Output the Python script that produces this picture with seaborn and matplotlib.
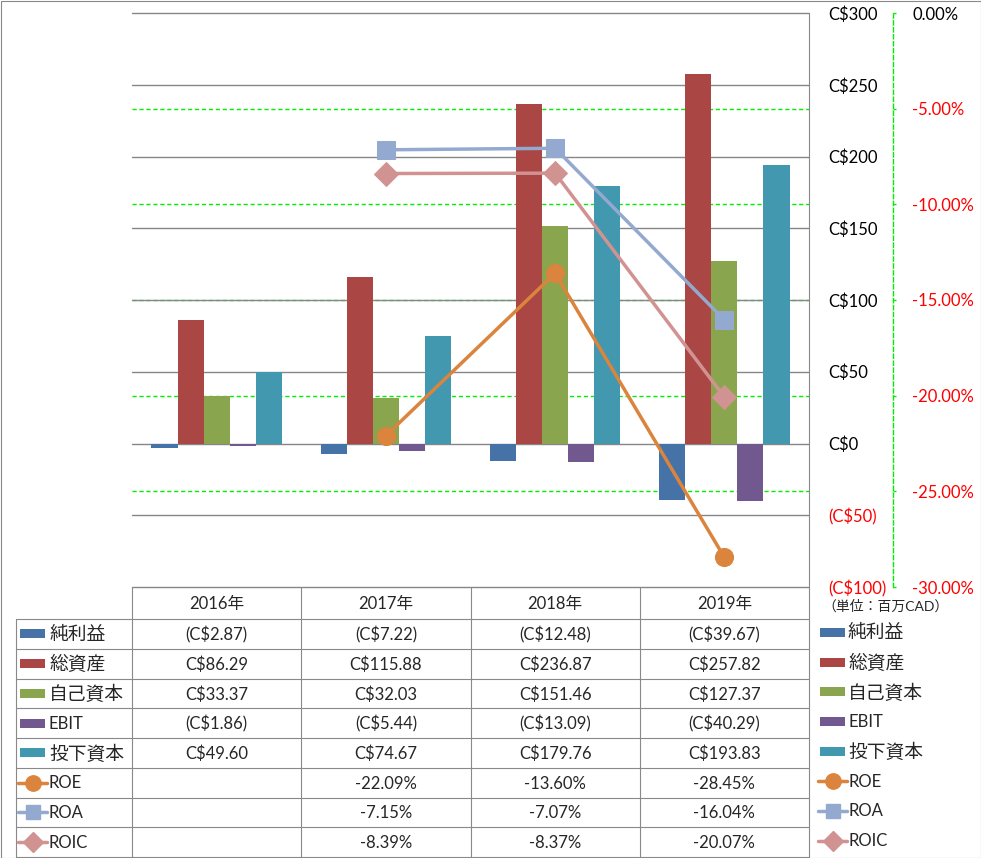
import numpy as np
import pandas as pd
import matplotlib
matplotlib.use("Agg")
import matplotlib.pyplot as plt
import seaborn as sns
from matplotlib.lines import Line2D
from matplotlib.patches import Rectangle

# ---------------- data ----------------
years = ["2016年", "2017年", "2018年", "2019年"]
bar_series = ["純利益", "総資産", "自己資本", "EBIT", "投下資本"]
net_income = [-2.87, -7.22, -12.48, -39.67]
total_assets = [86.29, 115.88, 236.87, 257.82]
equity = [33.37, 32.03, 151.46, 127.37]
ebit = [-1.86, -5.44, -13.09, -40.29]
invested_capital = [49.60, 74.67, 179.76, 193.83]
line_series = ["ROE", "ROA", "ROIC"]
roe = [np.nan, -22.09, -13.60, -28.45]
roa = [np.nan, -7.15, -7.07, -16.04]
roic = [np.nan, -8.39, -8.37, -20.07]
left_ticks = [-100, -50, 0, 50, 100, 150, 200, 250, 300]
right_ticks = [-30, -25, -20, -15, -10, -5, 0]
unit_label = "（単位：百万CAD）"

bar_values = [net_income, total_assets, equity, ebit, invested_capital]
line_values = [roe, roa, roic]

# ---------------- style ----------------
bar_colors = ["#4572A7", "#AA4643", "#89A54E", "#71588F", "#4198AF"]
line_colors = ["#DB843D", "#93A9CF", "#D19392"]
line_markers = ["o", "s", "D"]
marker_sizes = [13, 12.5, 12]
GRID_GRAY = "#868686"
GREEN = "#00F000"
RED = "#FF0000"

sns.set_style("white")
plt.rcParams["font.family"] = ["Lato", "Noto Sans CJK JP"]

W, H = 981, 858
fig = plt.figure(figsize=(W / 100, H / 100), dpi=100)
fig.patch.set_facecolor("white")

PL, PR, PT, PB = 132, 809, 13, 587
rect = [PL / W, 1 - PB / H, (PR - PL) / W, (PB - PT) / H]

ax = fig.add_axes(rect)
ax2 = ax.twinx()
ax3 = ax.twinx()
ax2.set_zorder(1)
ax.set_zorder(2)
ax3.set_zorder(3)
ax.patch.set_visible(False)
ax3.patch.set_visible(False)

# ---- bars ----
rows = []
for s, vals in zip(bar_series, bar_values):
    for y, v in zip(years, vals):
        rows.append({"year": y, "series": s, "value": v})
df = pd.DataFrame(rows)
sns.barplot(data=df, x="year", y="value", hue="series", order=years,
            hue_order=bar_series, palette=bar_colors, width=0.77,
            saturation=1, linewidth=0, errorbar=None, legend=False, ax=ax,
            zorder=2)
ax.set_xlim(-0.5, len(years) - 0.5)
ax.set_ylim(min(left_ticks), max(left_ticks))


def money(v):
    return f"(C${abs(v):,.0f})" if v < 0 else f"C${v:,.0f}"


ax.yaxis.tick_right()
ax.set_yticks(left_ticks)
ax.set_yticklabels([money(v) for v in left_ticks])
ax.tick_params(axis="y", length=0, pad=13.7, labelsize=12)
ax.tick_params(axis="x", length=0, labelbottom=False)
for t, v in zip(ax.yaxis.get_major_ticks(), left_ticks):
    t.label1.set_color(RED if v < 0 else "black")
    t.label2.set_color(RED if v < 0 else "black")
ax.set_xlabel("")
ax.set_ylabel("")
for sp in ax.spines.values():
    sp.set_visible(False)
ax.grid(False)
for v in left_ticks:
    ax.axhline(v, color=GRID_GRAY, lw=1, zorder=0.5, clip_on=False)

# ---- secondary axis (percent) ----
ax2.set_ylim(min(right_ticks), max(right_ticks))
ax2.set_yticks(right_ticks)
ax2.set_yticklabels([f"{v:.2f}%" for v in right_ticks])
for name, sp in ax2.spines.items():
    sp.set_visible(name == "right")
ax2.spines["right"].set_position(("outward", 84 * 0.72))
ax2.spines["right"].set_color(GREEN)
ax2.spines["right"].set_linestyle((0, (3, 2)))
ax2.spines["right"].set_linewidth(1)
ax2.tick_params(axis="y", direction="out", length=2.5, width=1,
                color=GREEN, pad=11.5, labelsize=12)
for t, v in zip(ax2.yaxis.get_major_ticks(), right_ticks):
    t.label1.set_color(RED if v < 0 else "black")
    t.label2.set_color(RED if v < 0 else "black")
ax2.grid(False)
for v in right_ticks[1:-1]:
    ax2.axhline(v, color=GREEN, lw=1, linestyle=(0, (3, 2)))

# ---- ratio lines ----
ax3.set_ylim(min(right_ticks), max(right_ticks))
xpos = np.arange(len(years))
for name, vals, c, m, ms in zip(line_series, line_values, line_colors,
                                line_markers, marker_sizes):
    sns.lineplot(x=xpos, y=vals, ax=ax3, color=c, marker=m, markersize=ms,
                 markeredgecolor=c, linewidth=2.5, legend=False)
ax3.set_xlim(-0.5, len(years) - 0.5)
ax3.axis("off")

# ---------------- data table & legends (overlay) ----------------
ov = fig.add_axes([0, 0, 1, 1], zorder=10)
ov.set_xlim(0, W)
ov.set_ylim(H, 0)
ov.axis("off")
ov.patch.set_visible(False)

TC = "#898989"
tlw = 0.8
ov.add_patch(Rectangle((0.5, 0.5), W - 1, H - 1, fill=False, ec=TC, lw=tlw))

col_edges = np.linspace(PL, PR, len(years) + 1)
header_bottom = 619
row_h = (857 - header_bottom) / 8
row_edges = [header_bottom + i * row_h for i in range(9)]
TL = 16

for x in col_edges[:-1]:
    ov.add_line(Line2D([x, x], [PB, 857], color=TC, lw=tlw))
ov.add_line(Line2D([PR, PR], [PT, H], color=TC, lw=tlw))
ov.add_line(Line2D([TL, TL], [header_bottom, 857], color=TC, lw=tlw))
for y in row_edges:
    ov.add_line(Line2D([TL, PR], [y, y], color=TC, lw=tlw))

for i, yr in enumerate(years):
    ov.text((col_edges[i] + col_edges[i + 1]) / 2, (PB + header_bottom) / 2 + 1,
            yr, ha="center", va="center", fontsize=12)


def fmt_money(v):
    if v is None or (isinstance(v, float) and np.isnan(v)):
        return ""
    return f"(C${abs(v):.2f})" if v < 0 else f"C${v:.2f}"


def fmt_pct(v):
    if v is None or (isinstance(v, float) and np.isnan(v)):
        return ""
    return f"{v:.2f}%"


all_names = bar_series + line_series
all_rows = [[fmt_money(v) for v in vals] for vals in bar_values] + \
           [[fmt_pct(v) for v in vals] for vals in line_values]


def label_size(s):
    return 12 if s.isascii() else 13.5


for r, (name, cells) in enumerate(zip(all_names, all_rows)):
    cy = (row_edges[r] + row_edges[r + 1]) / 2
    for i, txt in enumerate(cells):
        ov.text((col_edges[i] + col_edges[i + 1]) / 2, cy + 1, txt,
                ha="center", va="center", fontsize=12)
    for kx, tx, dy in [(20, 49, 0), (820, 848, -1.5)]:
        ky = cy + dy
        if r < len(bar_series):
            ov.add_patch(Rectangle((kx, ky - 4.5), 25, 9,
                                   color=bar_colors[r], lw=0))
        else:
            j = r - len(bar_series)
            ov.add_line(Line2D([kx - 2, kx + 27], [ky, ky], color=line_colors[j],
                               lw=2.5))
            ov.add_line(Line2D([kx + 12.5], [ky], color=line_colors[j],
                               marker=line_markers[j], markersize=marker_sizes[j] * 0.85,
                               markeredgecolor=line_colors[j], lw=0))
        ov.text(tx, ky + 0.5, name, ha="left", va="center",
                fontsize=label_size(name))

ov.text(822, 606, unit_label, ha="left", va="center", fontsize=10)

fig.savefig("out.png", dpi=100, facecolor="white")
